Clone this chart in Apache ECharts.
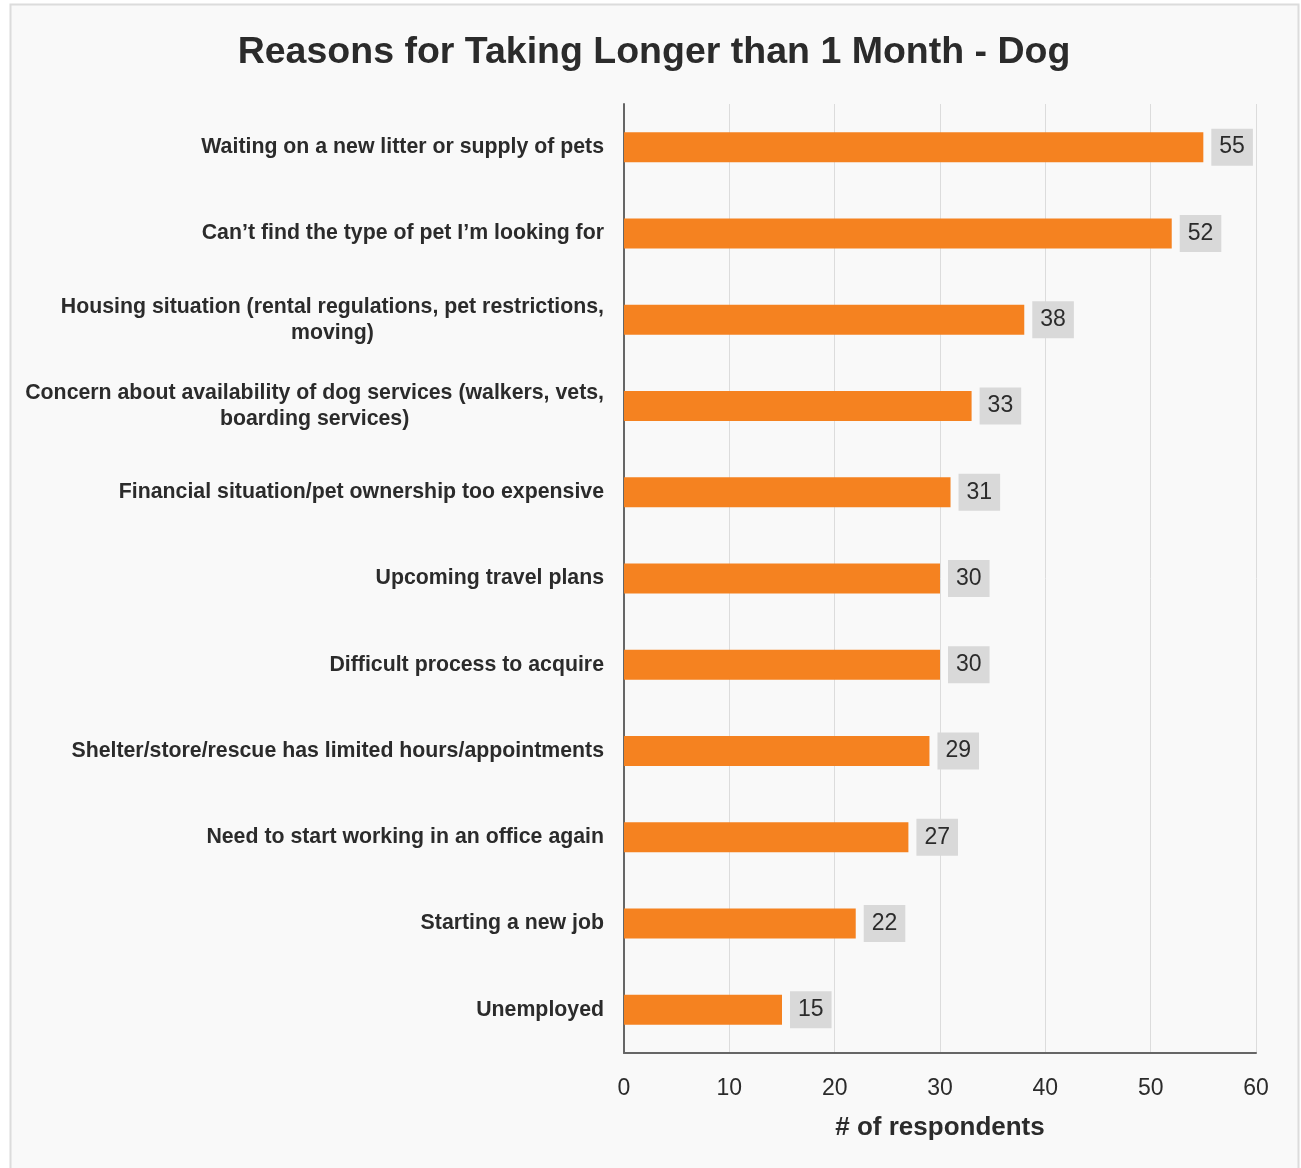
<!DOCTYPE html>
<html><head><meta charset="utf-8">
<script src="https://cdn.jsdelivr.net/npm/echarts@6/dist/echarts.min.js"></script>
<style>html,body{margin:0;padding:0;background:#fff}#c{width:1301px;height:1168px}</style>
</head><body><div id="c"></div>
<script>
const categories = [
  "Waiting on a new litter or supply of pets",
  "Can\u2019t find the type of pet I\u2019m looking for",
  "Housing situation (rental regulations, pet restrictions,\nmoving)",
  "Concern about availability of dog services (walkers, vets,\nboarding services)",
  "Financial situation/pet ownership too expensive",
  "Upcoming travel plans",
  "Difficult process to acquire",
  "Shelter/store/rescue has limited hours/appointments",
  "Need to start working in an office again",
  "Starting a new job",
  "Unemployed"
];
const values = [55, 52, 38, 33, 31, 30, 30, 29, 27, 22, 15];
const xTicks = [0, 10, 20, 30, 40, 50, 60];

const FONT = 'Liberation Sans, Arial, sans-serif';
const chart = echarts.init(document.getElementById('c'), null, {renderer: 'canvas'});
chart.setOption({
  backgroundColor: '#ffffff',
  animation: false,
  graphic: [{
    type: 'rect', z: -10, silent: true,
    shape: {x: 10.5, y: 4.5, width: 1288, height: 1180},
    style: {fill: '#f9f9f9', stroke: '#dcdcdc', lineWidth: 2}
  }],
  title: {
    text: 'Reasons for Taking Longer than 1 Month - Dog',
    left: 649, top: 29, textAlign: 'center',
    textStyle: {fontFamily: FONT, fontWeight: 'bold', fontSize: 37.5, color: '#2b2b2b'}
  },
  grid: {left: 624, right: 45, top: 104, bottom: 115, containLabel: false},
  xAxis: {
    type: 'value', min: 0, max: 60, interval: 10,
    name: '# of respondents', nameLocation: 'middle', nameGap: 62,
    nameTextStyle: {fontFamily: FONT, fontSize: 26, fontWeight: 'bold', color: '#2b2b2b'},
    axisLine: {show: true, lineStyle: {color: '#666', width: 2}},
    axisTick: {show: false},
    splitLine: {show: true, lineStyle: {color: '#dcdcdc', width: 1}},
    axisLabel: {margin: 24, fontFamily: FONT, fontSize: 23, color: '#2b2b2b',
      formatter: v => xTicks.includes(v) ? String(v) : ''}
  },
  yAxis: {
    type: 'category', data: categories, inverse: true,
    axisLine: {show: true, lineStyle: {color: '#666', width: 2}},
    axisTick: {show: false},
    axisLabel: {
      margin: 20, color: '#2b2b2b',
      formatter: v => v.split('\n').map(s => '{c|' + s + '}').join('\n'),
      rich: {c: {align: 'center', fontFamily: FONT, fontWeight: 'bold', fontSize: 21.3, color: '#2b2b2b', lineHeight: 26}}
    }
  },
  series: [{
    type: 'bar', data: values, barWidth: 30,
    itemStyle: {color: '#f58220'},
    label: {
      show: true, position: 'right', distance: 8,
      fontFamily: FONT, fontSize: 23, color: '#2b2b2b',
      backgroundColor: '#d9d9d9', padding: [7, 8, 7, 8]
    }
  }]
});
</script></body></html>
